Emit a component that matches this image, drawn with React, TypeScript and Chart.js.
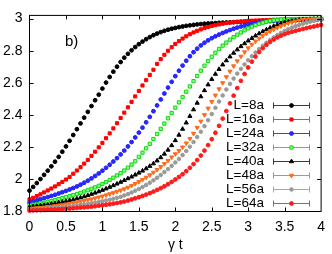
import React, { useEffect, useRef } from 'react';
import { Chart, registerables } from 'chart.js';
import { drawPoint } from 'chart.js/helpers';

Chart.register(...registerables);

const TIMES = [
  0, 0.05, 0.1, 0.15, 0.2, 0.25, 0.3, 0.35, 0.4, 0.45, 0.5, 0.55, 0.6, 0.65, 0.7, 0.75, 0.8, 0.85, 0.9, 0.95,
  1, 1.05, 1.1, 1.15, 1.2, 1.25, 1.3, 1.35, 1.4, 1.45, 1.5, 1.55, 1.6, 1.65, 1.7, 1.75, 1.8, 1.85, 1.9, 1.95,
  2, 2.05, 2.1, 2.15, 2.2, 2.25, 2.3, 2.35, 2.4, 2.45, 2.5, 2.55, 2.6, 2.65, 2.7, 2.75, 2.8, 2.85, 2.9, 2.95,
  3, 3.05, 3.1, 3.15, 3.2, 3.25, 3.3, 3.35, 3.4, 3.45, 3.5, 3.55, 3.6, 3.65, 3.7, 3.75, 3.8, 3.85, 3.9, 3.95, 4,
];

const L8 = [
  1.930, 1.953, 1.977, 2.002, 2.028, 2.054, 2.081, 2.110, 2.140, 2.172, 2.205, 2.240, 2.276, 2.312, 2.348, 2.384, 2.420, 2.456, 2.492, 2.527,
  2.565, 2.602, 2.637, 2.670, 2.701, 2.730, 2.757, 2.781, 2.803, 2.823, 2.841, 2.857, 2.872, 2.885, 2.897, 2.907, 2.916, 2.924, 2.931, 2.937,
  2.942, 2.947, 2.951, 2.955, 2.958, 2.961, 2.964, 2.966, 2.968, 2.970, 2.971, 2.972, 2.974, 2.975, 2.976, 2.977, 2.978, 2.979, 2.980, 2.981,
  2.982, 2.983, 2.984, 2.985, 2.985, 2.986, 2.987, 2.988, 2.988, 2.989, 2.990, 2.990, 2.991, 2.992, 2.992, 2.993, 2.993, 2.994, 2.994, 2.995, 2.995,
];
const L16 = [
  1.875, 1.885, 1.896, 1.907, 1.919, 1.931, 1.943, 1.956, 1.970, 1.984, 1.999, 2.015, 2.035, 2.055, 2.076, 2.098, 2.121, 2.146, 2.172, 2.199,
  2.227, 2.256, 2.286, 2.317, 2.349, 2.382, 2.415, 2.448, 2.482, 2.516, 2.550, 2.584, 2.617, 2.650, 2.682, 2.718, 2.748, 2.775, 2.800, 2.822,
  2.842, 2.860, 2.876, 2.890, 2.903, 2.914, 2.924, 2.933, 2.941, 2.948, 2.954, 2.959, 2.964, 2.968, 2.972, 2.975, 2.978, 2.980, 2.982, 2.984,
  2.986, 2.987, 2.988, 2.989, 2.990, 2.991, 2.992, 2.993, 2.993, 2.994, 2.994, 2.995, 2.995, 2.996, 2.996, 2.997, 2.997, 2.997, 2.998, 2.998, 2.998,
];
const L24 = [
  1.855, 1.862, 1.869, 1.876, 1.883, 1.890, 1.897, 1.904, 1.912, 1.920, 1.928, 1.937, 1.946, 1.956, 1.967, 1.979, 1.992, 2.006, 2.021, 2.037,
  2.054, 2.072, 2.091, 2.111, 2.132, 2.155, 2.179, 2.205, 2.232, 2.261, 2.291, 2.322, 2.355, 2.389, 2.424, 2.460, 2.497, 2.534, 2.571, 2.607,
  2.642, 2.676, 2.708, 2.738, 2.766, 2.791, 2.813, 2.833, 2.850, 2.865, 2.878, 2.890, 2.901, 2.911, 2.920, 2.929, 2.937, 2.944, 2.951, 2.957,
  2.963, 2.968, 2.972, 2.976, 2.979, 2.982, 2.984, 2.986, 2.988, 2.989, 2.990, 2.991, 2.992, 2.993, 2.994, 2.994, 2.995, 2.995, 2.996, 2.996, 2.997,
];
const L32 = [
  1.838, 1.842, 1.846, 1.850, 1.855, 1.860, 1.865, 1.871, 1.877, 1.883, 1.889, 1.895, 1.902, 1.909, 1.916, 1.924, 1.932, 1.941, 1.950, 1.960,
  1.971, 1.983, 1.996, 2.010, 2.024, 2.039, 2.055, 2.073, 2.092, 2.113, 2.140, 2.166, 2.193, 2.221, 2.251, 2.282, 2.314, 2.347, 2.380, 2.413,
  2.446, 2.479, 2.512, 2.545, 2.578, 2.611, 2.643, 2.676, 2.707, 2.736, 2.763, 2.788, 2.811, 2.832, 2.851, 2.869, 2.885, 2.900, 2.914, 2.927,
  2.939, 2.950, 2.960, 2.968, 2.975, 2.981, 2.986, 2.989, 2.992, 2.994, 2.995, 2.996, 2.997, 2.997, 2.998, 2.998, 2.998, 2.999, 2.999, 2.999, 2.999,
];
const L40 = [
  1.828, 1.831, 1.834, 1.837, 1.840, 1.843, 1.847, 1.851, 1.855, 1.859, 1.864, 1.869, 1.874, 1.880, 1.886, 1.893, 1.900, 1.908, 1.916, 1.924,
  1.933, 1.942, 1.952, 1.962, 1.972, 1.983, 1.994, 2.005, 2.016, 2.028, 2.040, 2.053, 2.067, 2.082, 2.098, 2.116, 2.136, 2.158, 2.183, 2.211,
  2.242, 2.276, 2.313, 2.352, 2.393, 2.434, 2.475, 2.515, 2.553, 2.589, 2.623, 2.655, 2.685, 2.713, 2.739, 2.763, 2.786, 2.807, 2.827, 2.845,
  2.862, 2.878, 2.893, 2.907, 2.920, 2.932, 2.943, 2.953, 2.962, 2.970, 2.977, 2.982, 2.986, 2.989, 2.992, 2.994, 2.995, 2.996, 2.997, 2.998, 2.998,
];
const L48 = [
  1.818, 1.820, 1.822, 1.824, 1.826, 1.829, 1.832, 1.835, 1.838, 1.841, 1.845, 1.849, 1.853, 1.857, 1.862, 1.867, 1.872, 1.877, 1.883, 1.889,
  1.895, 1.902, 1.909, 1.916, 1.924, 1.932, 1.940, 1.950, 1.961, 1.973, 1.985, 1.998, 2.012, 2.027, 2.043, 2.060, 2.078, 2.097, 2.117, 2.138,
  2.158, 2.178, 2.200, 2.225, 2.253, 2.285, 2.322, 2.361, 2.401, 2.442, 2.483, 2.523, 2.562, 2.600, 2.637, 2.672, 2.705, 2.736, 2.765, 2.792,
  2.817, 2.839, 2.859, 2.877, 2.893, 2.908, 2.921, 2.933, 2.944, 2.954, 2.963, 2.971, 2.978, 2.984, 2.989, 2.993, 2.995, 2.997, 2.998, 2.999, 2.999,
];
const L56 = [
  1.812, 1.813, 1.815, 1.816, 1.818, 1.819, 1.821, 1.823, 1.825, 1.827, 1.830, 1.832, 1.835, 1.838, 1.841, 1.844, 1.847, 1.851, 1.855, 1.859,
  1.863, 1.868, 1.873, 1.879, 1.885, 1.891, 1.900, 1.908, 1.918, 1.929, 1.940, 1.952, 1.965, 1.979, 1.994, 2.010, 2.027, 2.045, 2.064, 2.084,
  2.105, 2.127, 2.151, 2.176, 2.203, 2.232, 2.263, 2.296, 2.331, 2.368, 2.406, 2.445, 2.484, 2.522, 2.559, 2.594, 2.627, 2.658, 2.687, 2.715,
  2.741, 2.766, 2.789, 2.811, 2.831, 2.850, 2.867, 2.883, 2.898, 2.911, 2.923, 2.934, 2.944, 2.953, 2.961, 2.968, 2.975, 2.981, 2.986, 2.991, 2.995,
];
const L64 = [
  1.806, 1.807, 1.808, 1.809, 1.810, 1.811, 1.812, 1.813, 1.814, 1.815, 1.817, 1.818, 1.820, 1.822, 1.824, 1.826, 1.828, 1.830, 1.833, 1.836,
  1.839, 1.842, 1.845, 1.849, 1.853, 1.857, 1.862, 1.868, 1.875, 1.882, 1.889, 1.897, 1.905, 1.914, 1.924, 1.934, 1.945, 1.957, 1.970, 1.984,
  1.999, 2.015, 2.032, 2.051, 2.072, 2.095, 2.120, 2.148, 2.179, 2.213, 2.250, 2.290, 2.333, 2.378, 2.425, 2.473, 2.521, 2.568, 2.613, 2.656,
  2.696, 2.732, 2.764, 2.792, 2.816, 2.837, 2.855, 2.870, 2.883, 2.894, 2.903, 2.911, 2.918, 2.924, 2.930, 2.936, 2.941, 2.946, 2.951, 2.956, 2.961,
];

const SERIES = [L8, L16, L24, L32, L40, L48, L56, L64];
const LABELS = ['L=8a', 'L=16a', 'L=24a', 'L=32a', 'L=40a', 'L=48a', 'L=56a', 'L=64a'];
const Y_TICKS = [1.8, 2, 2.2, 2.4, 2.6, 2.8, 3];
const X_TITLE = 'γ t';
const PANEL_LABEL = 'b)';

const STYLES = [
  { color: '#000000', fill: '#000000', line: '#3a3a3a', style: 'circle', radius: 1.9, rotation: 0 },
  { color: '#ff0000', fill: '#ff0000', line: '#ff3a3a', style: 'rect', radius: 2.2, rotation: 0 },
  { color: '#1c1cff', fill: '#2a2aff', line: '#3a3aff', style: 'circle', radius: 1.9, rotation: 0 },
  { color: '#10d810', fill: '#8cff8c', line: '#30e030', style: 'rect', radius: 2.3, rotation: 0 },
  { color: '#000000', fill: '#000000', line: '#3a3a3a', style: 'triangle', radius: 2.4, rotation: 0 },
  { color: '#ff6a1a', fill: '#ff6a1a', line: '#ff7a3a', style: 'triangle', radius: 2.4, rotation: 180 },
  { color: '#999999', fill: '#999999', line: '#a8a8a8', style: 'circle', radius: 1.8, rotation: 0 },
  { color: '#ff1a1a', fill: '#ff1a1a', line: '#ff3a3a', style: 'circle', radius: 1.9, rotation: 0 },
];

const FONT = '"Liberation Sans", Arial, Helvetica, sans-serif';

const fmt = (v: any) => String(Number(Number(v).toFixed(1)));

const overlay = {
  id: 'overlay',
  afterDraw(chart: any) {
    const { ctx, chartArea: a, scales } = chart;
    ctx.save();
    ctx.strokeStyle = '#000';
    ctx.lineWidth = 1;
    ctx.beginPath();
    scales.x.ticks.forEach((t: any) => {
      const px = Math.round(scales.x.getPixelForValue(t.value)) + 0.5;
      if (px <= a.left + 1 || px >= a.right - 1) return;
      ctx.moveTo(px, a.bottom);
      ctx.lineTo(px, a.bottom - 4);
      ctx.moveTo(px, a.top);
      ctx.lineTo(px, a.top + 4);
    });
    scales.y.ticks.forEach((t: any) => {
      const py = Math.round(scales.y.getPixelForValue(t.value)) + 0.5;
      if (py >= a.bottom - 1 || py <= a.top + 1) return;
      ctx.moveTo(a.left, py);
      ctx.lineTo(a.left + 4, py);
      ctx.moveTo(a.right, py);
      ctx.lineTo(a.right - 4, py);
    });
    ctx.stroke();
    ctx.strokeRect(a.left, a.top, a.right - a.left, a.bottom - a.top);

    ctx.fillStyle = '#000';
    ctx.font = `15px ${FONT}`;
    ctx.textAlign = 'left';
    ctx.textBaseline = 'middle';
    ctx.fillText(PANEL_LABEL, 65, 42);

    const textRight = 264;
    const x1 = 273;
    const x2 = 310;
    const y0 = 104.5;
    const dy = 14;
    ctx.font = `13.5px ${FONT}`;
    ctx.textAlign = 'right';
    LABELS.forEach((lab, i) => {
      const y = Math.round(y0 + i * dy) + 0.5;
      const st = STYLES[i];
      ctx.fillStyle = '#000';
      ctx.fillText(lab, textRight, y);
      ctx.strokeStyle = st.line;
      ctx.lineWidth = 1;
      ctx.beginPath();
      ctx.moveTo(x1, y);
      ctx.lineTo(x2, y);
      ctx.moveTo(x1 + 0.5, y - 3);
      ctx.lineTo(x1 + 0.5, y + 3);
      ctx.moveTo(x2 - 0.5, y - 3);
      ctx.lineTo(x2 - 0.5, y + 3);
      ctx.stroke();
      ctx.fillStyle = st.fill;
      ctx.strokeStyle = st.color;
      drawPoint(ctx, { pointStyle: st.style, radius: st.radius, rotation: st.rotation, borderWidth: 1 }, (x1 + x2) / 2, y);
    });
    ctx.restore();
  },
};

export default function App() {
  const ref = useRef<HTMLCanvasElement | null>(null);

  useEffect(() => {
    const canvas = ref.current;
    if (!canvas) return;
    const datasets = SERIES.map((vals, i) => {
      const st = STYLES[i];
      const n = Math.min(vals.length, TIMES.length);
      const data = [];
      for (let k = 0; k < n; k++) data.push({ x: TIMES[k], y: vals[k] });
      return {
        label: LABELS[i],
        data,
        showLine: false,
        pointStyle: st.style,
        pointRadius: st.radius,
        pointRotation: st.rotation,
        pointBackgroundColor: st.fill,
        pointBorderColor: st.color,
        pointBorderWidth: 1,
        backgroundColor: st.fill,
        borderColor: st.color,
        clip: false as any,
        order: SERIES.length - i,
      };
    });

    const chart = new Chart(canvas, {
      type: 'scatter',
      data: { datasets },
      options: {
        animation: false,
        responsive: false,
        devicePixelRatio: 1,
        events: [],
        layout: { padding: { top: 4, right: 5, left: 0, bottom: 0 } },
        plugins: {
          legend: { display: false },
          tooltip: { enabled: false },
        },
        scales: {
          x: {
            type: 'linear',
            min: 0,
            max: 4,
            grid: { display: false, drawTicks: false },
            border: { display: false },
            ticks: {
              stepSize: 0.5,
              autoSkip: false,
              maxRotation: 0,
              padding: 7,
              color: '#000',
              font: { family: FONT, size: 14 },
              callback: fmt,
            },
            title: {
              display: true,
              text: X_TITLE,
              color: '#000',
              font: { family: FONT, size: 14 },
              padding: { top: 0, bottom: 0 },
            },
            afterFit: (s: any) => {
              s.height = 42.5;
            },
          },
          y: {
            type: 'linear',
            min: 1.8,
            max: 3.02,
            grid: { display: false, drawTicks: false },
            border: { display: false },
            afterBuildTicks: (s: any) => {
              s.ticks = Y_TICKS.map((v) => ({ value: v }));
            },
            ticks: {
              padding: 7,
              autoSkip: false,
              color: '#000',
              font: { family: FONT, size: 14 },
              callback: fmt,
            },
            afterFit: (s: any) => {
              s.width = 29.5;
            },
          },
        },
      },
      plugins: [overlay],
    });
    return () => chart.destroy();
  }, []);

  return (
    <div style={{ position: 'absolute', left: 0, top: 0, width: 332, height: 254, background: '#fff' }}>
      <canvas ref={ref} width={332} height={254} style={{ display: 'block' }} />
    </div>
  );
}
